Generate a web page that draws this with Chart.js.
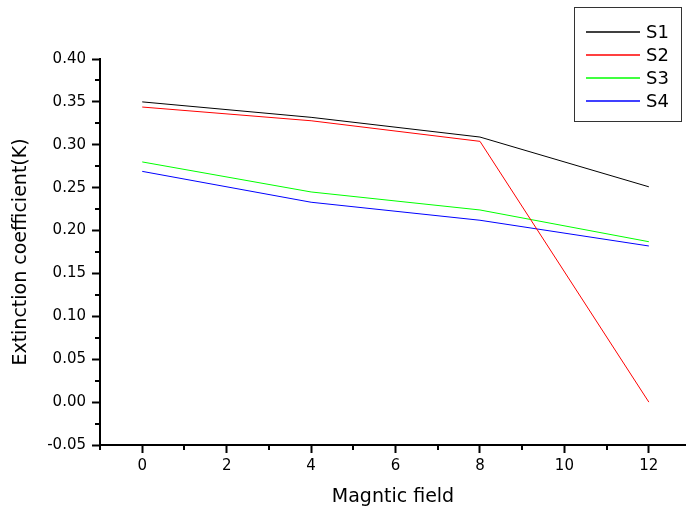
<!DOCTYPE html>
<html><head><meta charset="utf-8">
<script src="https://cdn.jsdelivr.net/npm/chart.js@4/dist/chart.umd.min.js"></script>
<style>html,body{margin:0;padding:0;background:#fff;overflow:hidden}</style>
</head><body>
<div style="width:686px;height:509px"><canvas id="c" width="686" height="509"></canvas></div>
<script>
const magneticField = [0, 4, 8, 12];
const s1 = [0.350, 0.332, 0.309, 0.251];
const s2 = [0.344, 0.328, 0.304, 0.000];
const s3 = [0.280, 0.245, 0.224, 0.187];
const s4 = [0.269, 0.233, 0.212, 0.182];
const seriesNames = ['S1', 'S2', 'S3', 'S4'];
const seriesColors = ['#000000', '#ff0000', '#00ff00', '#0000ff'];
const xTicks = [0, 2, 4, 6, 8, 10, 12];
const yTicks = [-0.05, 0.00, 0.05, 0.10, 0.15, 0.20, 0.25, 0.30, 0.35, 0.40];
const xMinor = [-1, 1, 3, 5, 7, 9, 11];
const yMinor = [-0.025, 0.025, 0.075, 0.125, 0.175, 0.225, 0.275, 0.325, 0.375];

const seriesValues = [s1, s2, s3, s4];
const FONT = '"DejaVu Sans", Verdana, sans-serif';

const datasets = seriesValues.map((vals, i) => ({
  label: seriesNames[i],
  data: magneticField.map((x, j) => ({x: x, y: vals[j]})),
  borderColor: seriesColors[i],
  backgroundColor: seriesColors[i],
  borderWidth: 1,
  pointRadius: 0,
  fill: false,
  tension: 0
}));

const minorTicks = {
  id: 'minorTicks',
  afterDraw(chart) {
    const ctx = chart.ctx, xs = chart.scales.x, ys = chart.scales.y;
    const a = chart.chartArea;
    ctx.save();
    ctx.strokeStyle = '#000';
    ctx.lineWidth = 2;
    ctx.beginPath();
    xMinor.forEach(v => {
      const px = Math.round(xs.getPixelForValue(v));
      ctx.moveTo(px, a.bottom); ctx.lineTo(px, a.bottom + 5);
    });
    yMinor.forEach(v => {
      const py = Math.round(ys.getPixelForValue(v));
      ctx.moveTo(a.left, py); ctx.lineTo(a.left - 5, py);
    });
    ctx.stroke();
    ctx.restore();
  }
};

const boxLegend = {
  id: 'boxLegend',
  afterDraw(chart) {
    const ctx = chart.ctx;
    ctx.save();
    ctx.lineWidth = 1;
    ctx.strokeStyle = '#333333';
    ctx.strokeRect(574.5, 7.5, 107, 114);
    ctx.font = '18px ' + FONT;
    ctx.textBaseline = 'middle';
    ctx.textAlign = 'left';
    chart.data.datasets.forEach((ds, i) => {
      const y = 32 + i * 23;
      ctx.lineWidth = 1.3;
      ctx.strokeStyle = seriesColors[i];
      ctx.beginPath();
      ctx.moveTo(586, y); ctx.lineTo(640, y);
      ctx.stroke();
      ctx.fillStyle = '#000';
      ctx.fillText(ds.label, 646, y + 1);
    });
    ctx.restore();
  }
};

new Chart(document.getElementById('c'), {
  type: 'line',
  data: {datasets: datasets},
  plugins: [minorTicks, boxLegend],
  options: {
    responsive: false,
    animation: false,
    devicePixelRatio: 1,
    layout: {padding: {top: 59, left: 0, right: 0, bottom: 0}},
    plugins: {legend: {display: false}, tooltip: {enabled: false}},
    scales: {
      x: {
        type: 'linear', min: -1, max: 12.88,
        afterBuildTicks: s => { s.ticks = xTicks.map(v => ({value: v})); },
        afterFit: s => { s.height = 64; },
        ticks: {font: {family: FONT, size: 15}, color: '#000', padding: 4, maxRotation: 0, autoSkip: false},
        grid: {drawOnChartArea: false, drawTicks: true, tickLength: 8, tickWidth: 2, tickColor: '#000'},
        border: {display: true, color: '#000', width: 2},
        title: {display: true, text: 'Magntic field', font: {family: FONT, size: 19}, color: '#000', padding: {top: 4, bottom: 1}}
      },
      y: {
        type: 'linear', min: -0.05, max: 0.40,
        afterBuildTicks: s => { s.ticks = yTicks.map(v => ({value: v})); },
        afterFit: s => { s.width = 100; },
        ticks: {font: {family: FONT, size: 15}, color: '#000', padding: 6, autoSkip: false,
          callback: v => v.toFixed(2)},
        grid: {drawOnChartArea: false, drawTicks: true, tickLength: 8, tickWidth: 2, tickColor: '#000'},
        border: {display: true, color: '#000', width: 2},
        title: {display: true, text: 'Extinction coefficient(K)', font: {family: FONT, size: 19}, color: '#000', padding: {top: 10, bottom: 4}}
      }
    }
  }
});
</script>
</body></html>
